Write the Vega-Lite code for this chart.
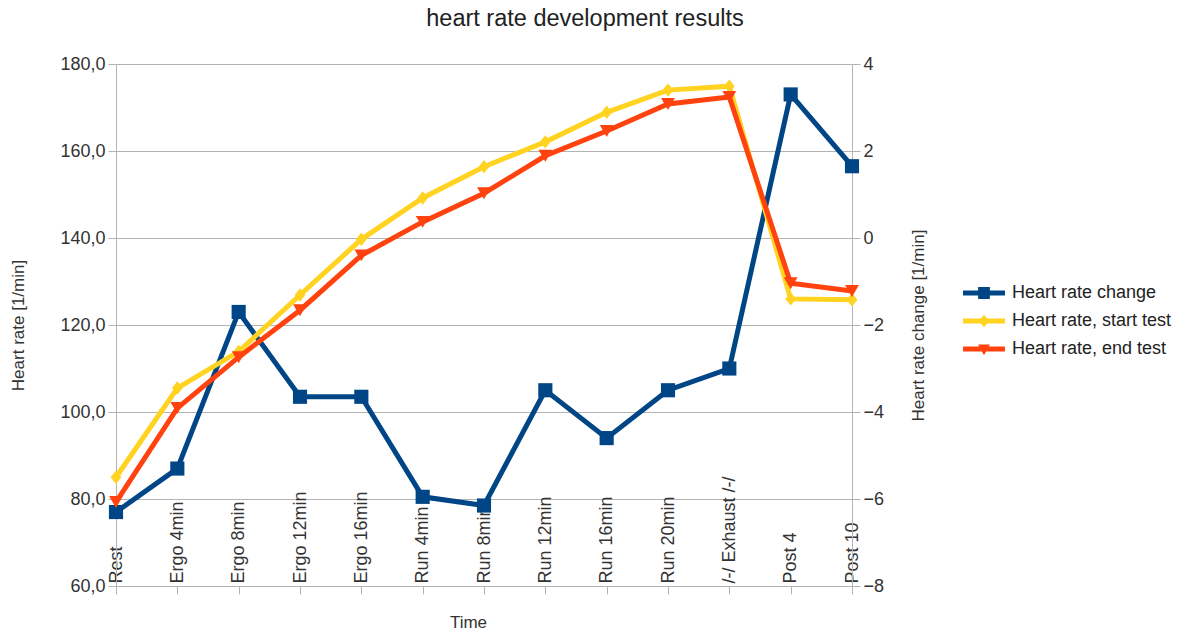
{
  "$schema": "https://vega.github.io/schema/vega-lite/v6.json",
  "width": 736,
  "height": 522,
  "autosize": {"type": "none"},
  "padding": {"left": 116, "top": 64, "right": 336, "bottom": 46},
  "background": "white",
  "config": {"view": {"stroke": null}, "font": "Liberation Sans"},
  "title": {"text": "heart rate development results", "fontSize": 23.5, "font": "Liberation Sans", "fontWeight": "normal", "color": "#222222", "anchor": "middle", "dx": 101, "offset": 25},
  "datasets": {
    "hr": [
      {"time": "Rest", "start": 85.0, "end": 79.3, "change": -6.3},
      {"time": "Ergo 4min", "start": 105.5, "end": 100.9, "change": -5.3},
      {"time": "Ergo 8min", "start": 113.9, "end": 112.6, "change": -1.7},
      {"time": "Ergo 12min", "start": 126.9, "end": 123.4, "change": -3.65},
      {"time": "Ergo 16min", "start": 139.7, "end": 136.0, "change": -3.65},
      {"time": "Run 4min", "start": 149.2, "end": 143.7, "change": -5.95},
      {"time": "Run 8min", "start": 156.4, "end": 150.3, "change": -6.15},
      {"time": "Run 12min", "start": 162.1, "end": 158.9, "change": -3.5},
      {"time": "Run 16min", "start": 168.9, "end": 164.6, "change": -4.6},
      {"time": "Run 20min", "start": 174.0, "end": 170.8, "change": -3.5},
      {"time": "/-/ Exhaust /-/", "start": 174.9, "end": 172.4, "change": -3.0},
      {"time": "Post 4", "start": 126.0, "end": 129.6, "change": 3.3},
      {"time": "Post 10", "start": 125.8, "end": 127.8, "change": 1.65}
    ],
    "legend": [
      {"series": "Heart rate change"},
      {"series": "Heart rate, start test"},
      {"series": "Heart rate, end test"}
    ]
  },
  "layer": [
    {
      "data": {"name": "hr"},
      "encoding": {
        "x": {"field": "time", "type": "ordinal", "sort": null, "scale": {"type": "point", "padding": 0},
          "axis": {"orient": "bottom", "title": "Time", "grid": false, "domainColor": "#b3b3b3", "tickColor": "#b3b3b3", "tickSize": 8, "labelAngle": 270, "labelAlign": "left", "labelBaseline": "middle", "labelPadding": -11, "labelOverlap": false, "labelBound": false, "labelFlush": false, "labelFontSize": 18, "labelColor": "#333333", "titleFontSize": 17, "titleFontWeight": "normal", "titleColor": "#333333", "titleX": 352, "titleY": 36, "titleBaseline": "middle"}},
        "y": {"field": "change", "type": "quantitative", "scale": {"domain": [-8, 4], "nice": false, "zero": false},
          "axis": {"orient": "right", "title": "Heart rate change [1/min]", "values": [-8, -6, -4, -2, 0, 2, 4], "format": "d", "grid": false, "domainColor": "#b3b3b3", "tickColor": "#b3b3b3", "tickSize": 8, "labelPadding": 3, "labelFontSize": 18, "labelColor": "#333333", "titleFontSize": 17, "titleFontWeight": "normal", "titleColor": "#333333", "titleX": 66, "titleY": 261, "titleAngle": 270, "titleBaseline": "middle", "titleAlign": "center"}}
      },
      "layer": [
        {"mark": {"type": "line", "color": "#004586", "strokeWidth": 5}},
        {"mark": {"type": "point", "filled": true, "shape": "square", "size": 200, "color": "#004586", "opacity": 1}}
      ]
    },
    {
      "layer": [
        {
          "data": {"name": "hr"},
          "encoding": {
            "x": {"field": "time", "type": "ordinal", "sort": null, "scale": {"type": "point", "padding": 0},
              "axis": {"orient": "bottom", "title": "Time", "grid": false, "domainColor": "#b3b3b3", "tickColor": "#b3b3b3", "tickSize": 8, "labelAngle": 270, "labelAlign": "left", "labelBaseline": "middle", "labelPadding": -11, "labelOverlap": false, "labelBound": false, "labelFlush": false, "labelFontSize": 18, "labelColor": "#333333", "titleFontSize": 17, "titleFontWeight": "normal", "titleColor": "#333333", "titleX": 352, "titleY": 36, "titleBaseline": "middle"}},
            "y": {"field": "start", "type": "quantitative", "scale": {"domain": [60, 180], "nice": false, "zero": false},
              "axis": {"orient": "left", "title": "Heart rate [1/min]", "values": [60, 80, 100, 120, 140, 160, 180], "format": ".1f", "labelExpr": "replace(datum.label, '.', ',')", "grid": true, "gridColor": "#b3b3b3", "domainColor": "#b3b3b3", "tickColor": "#b3b3b3", "tickSize": 8, "labelPadding": 3, "labelFontSize": 18, "labelColor": "#333333", "titleFontSize": 17, "titleFontWeight": "normal", "titleColor": "#333333", "titleX": -98, "titleY": 261, "titleAngle": 270, "titleBaseline": "middle", "titleAlign": "center"}}
          },
          "layer": [
            {"mark": {"type": "line", "color": "#ffd320", "strokeWidth": 5}},
            {"mark": {"type": "point", "filled": true, "shape": "M0,-1L0.8,0L0,1L-0.8,0Z", "size": 180, "color": "#ffd320", "opacity": 1}}
          ]
        },
        {
          "data": {"name": "hr"},
          "encoding": {
            "x": {"field": "time", "type": "ordinal", "sort": null, "scale": {"type": "point", "padding": 0},
              "axis": {"orient": "bottom", "title": "Time", "grid": false, "domainColor": "#b3b3b3", "tickColor": "#b3b3b3", "tickSize": 8, "labelAngle": 270, "labelAlign": "left", "labelBaseline": "middle", "labelPadding": -11, "labelOverlap": false, "labelBound": false, "labelFlush": false, "labelFontSize": 18, "labelColor": "#333333", "titleFontSize": 17, "titleFontWeight": "normal", "titleColor": "#333333", "titleX": 352, "titleY": 36, "titleBaseline": "middle"}},
            "y": {"field": "end", "type": "quantitative", "scale": {"domain": [60, 180], "nice": false, "zero": false},
              "axis": {"orient": "left", "title": "Heart rate [1/min]", "values": [60, 80, 100, 120, 140, 160, 180], "format": ".1f", "labelExpr": "replace(datum.label, '.', ',')", "grid": true, "gridColor": "#b3b3b3", "domainColor": "#b3b3b3", "tickColor": "#b3b3b3", "tickSize": 8, "labelPadding": 3, "labelFontSize": 18, "labelColor": "#333333", "titleFontSize": 17, "titleFontWeight": "normal", "titleColor": "#333333", "titleX": -98, "titleY": 261, "titleAngle": 270, "titleBaseline": "middle", "titleAlign": "center"}}
          },
          "layer": [
            {"mark": {"type": "line", "color": "#ff420e", "strokeWidth": 5}},
            {"mark": {"type": "point", "filled": true, "shape": "triangle-down", "size": 190, "color": "#ff420e", "opacity": 1}}
          ]
        },
        {
          "data": {"name": "legend"},
          "mark": {"type": "point", "filled": true, "opacity": 0},
          "encoding": {
            "color": {"field": "series", "type": "nominal",
              "scale": {"domain": ["Heart rate change", "Heart rate, start test", "Heart rate, end test"], "range": ["#004586", "#ffd320", "#ff420e"]},
              "legend": {"title": null, "orient": "none", "legendX": 847, "legendY": 216, "symbolSize": 1764, "clipHeight": 26, "labelOffset": 7, "labelFontSize": 18, "labelColor": "#222222", "labelFont": "Liberation Sans", "symbolStrokeWidth": 0, "symbolOpacity": 1, "padding": 0}},
            "shape": {"field": "series", "type": "nominal",
              "scale": {"domain": ["Heart rate change", "Heart rate, start test", "Heart rate, end test"], "range": ["M-1,-0.12H1V0.12H-1Z M-0.28,-0.28H0.28V0.28H-0.28Z", "M-1,-0.12H1V0.12H-1Z M0,-0.3L0.24,0L0,0.3L-0.24,0Z", "M-1,-0.12H1V0.12H-1Z M-0.28,-0.22L0.28,-0.22L0,0.3Z"]},
              "legend": {"title": null, "orient": "none", "legendX": 847, "legendY": 216, "symbolSize": 1764, "clipHeight": 26, "labelOffset": 7, "labelFontSize": 18, "labelColor": "#222222", "labelFont": "Liberation Sans", "symbolStrokeWidth": 0, "symbolOpacity": 1, "padding": 0}}
          }
        }
      ]
    }
  ],
  "resolve": {"scale": {"y": "independent"}}
}
